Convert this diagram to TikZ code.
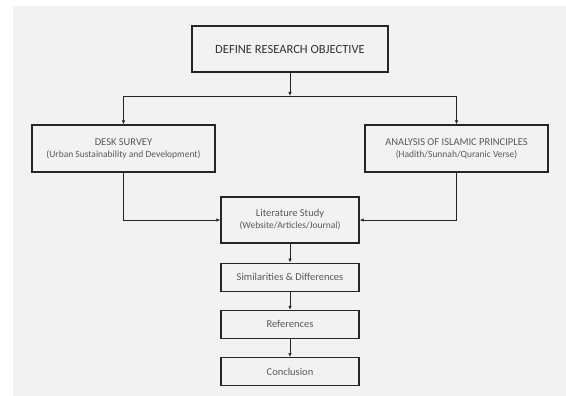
\documentclass[tikz,border=0pt]{standalone}
\usepackage{fontspec}
\setmainfont{Carlito}
\usetikzlibrary{calc,positioning}
\usetikzlibrary{arrows.meta}
\definecolor{pagegray}{HTML}{F2F2F2}
\definecolor{textgray}{HTML}{595959}
\definecolor{edgegray}{HTML}{262626}

\begin{document}
\begin{tikzpicture}[x=1pt,y=-1pt,
  box/.style={draw=edgegray,line width=1.2pt,align=center,inner sep=0pt,text=textgray,font=\fontsize{10.5}{13}\selectfont},
  wide/.style={box,minimum width=183pt,minimum height=47pt},
  small/.style={box,minimum width=138pt,minimum height=28pt},
  link/.style={-{Latex[length=4pt,width=3.5pt]},line width=0.7pt,draw=edgegray}]
\fill[pagegray] (13,6) rectangle (566,396);
\useasboundingbox (0,0) rectangle (566,396);
\node[box,minimum width=196pt,minimum height=46pt,text=black!80,font=\fontsize{12.5}{15}\selectfont] (goal) at (290,49) {DEFINE RESEARCH OBJECTIVE};
\coordinate (split) at (290,96);
\node[wide] (desk) at (123.5,148.5) {DESK SURVEY\\[-1pt] {\fontsize{9.5}{12}\selectfont (Urban Sustainability and Development)}};
\node[wide] (islam) at (456.5,148.5) {ANALYSIS OF ISLAMIC PRINCIPLES\\[-1pt] {\fontsize{9.5}{12}\selectfont (Hadith/Sunnah/Quranic Verse)}};
\node[box,minimum width=138pt,minimum height=46pt] (lit) at (290,220) {Literature Study\\[-1pt] {\fontsize{9.5}{12}\selectfont (Website/Articles/Journal)}};
\node[small,below=19pt of lit] (sim) {Similarities \& Differences};
\node[small,below=18pt of sim] (ref) {References};
\node[small,below=18pt of ref] (conc) {Conclusion};
\draw[link] (goal) -- (split);
\draw[link] (split) -| (desk);
\draw[link] (split) -| (islam);
\draw[link] (desk) |- (lit);
\draw[link] (islam) |- (lit);
\draw[link] (lit) -- (sim);
\draw[link] (sim) -- (ref);
\draw[link] (ref) -- (conc);
\end{tikzpicture}
\end{document}
